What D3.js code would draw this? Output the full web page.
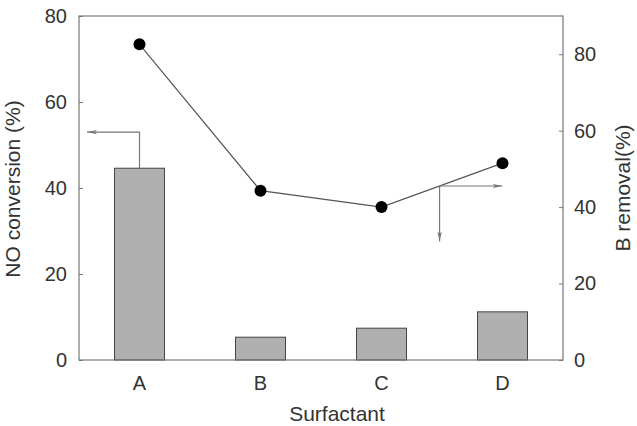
<!DOCTYPE html>
<html lang="en">
  <head>
    <meta charset="UTF-8" />
    <title>NO conversion and B removal by surfactant</title>
    <script src="https://d3js.org/d3.v7.min.js"></script>
    <style>
      body { margin: 0; background: #fff; }
      text { font-family: "Liberation Sans", Arial, sans-serif; fill: #333; }
    </style>
  </head>
  <body>
    <div id="chart"></div>
    <script>
      // data
      const categories = ["A", "B", "C", "D"];
      const noConversion = [44.6, 5.3, 7.4, 11.2];   // bars, left axis
      const bRemoval = [82.6, 44.3, 40.0, 51.5];      // dots + line, right axis
      const leftTicks = [0, 20, 40, 60, 80];
      const rightTicks = [0, 20, 40, 60, 80];

      const width = 637;
      const height = 426;
      const margin = { top: 16, right: 74, bottom: 66, left: 79 };
      const innerW = width - margin.left - margin.right;
      const innerH = height - margin.top - margin.bottom;

      const svg = d3
        .select("#chart")
        .append("svg")
        .attr("width", width)
        .attr("height", height);

      const defs = svg.append("defs");
      defs
        .append("marker")
        .attr("id", "head")
        .attr("viewBox", "0 0 10 6")
        .attr("refX", 10)
        .attr("refY", 3)
        .attr("markerWidth", 10)
        .attr("markerHeight", 6)
        .attr("markerUnits", "userSpaceOnUse")
        .attr("orient", "auto")
        .append("path")
        .attr("d", "M0,0.8 L10,3 L0,5.2 L2.5,3 Z")
        .attr("fill", "#777");

      const g = svg
        .append("g")
        .attr("transform", `translate(${margin.left},${margin.top})`);

      const x = d3
        .scaleBand()
        .domain(categories)
        .range([0, innerW])
        .paddingInner(0.587)
        .paddingOuter(0.2935);

      const yLeft = d3.scaleLinear().domain([0, 80]).range([innerH, 0]);
      const yRight = d3.scaleLinear().domain([0, 90]).range([innerH, 0]);

      // bars
      g.selectAll(".bar")
        .data(categories)
        .enter()
        .append("rect")
        .attr("class", "bar")
        .attr("x", (d) => x(d))
        .attr("width", x.bandwidth())
        .attr("y", (d, i) => yLeft(noConversion[i]))
        .attr("height", (d, i) => innerH - yLeft(noConversion[i]))
        .attr("fill", "#b0b0b0")
        .attr("stroke", "#444")
        .attr("stroke-width", 1);

      // axes (ticks point inward)
      const leftAxis = g
        .append("g")
        .call(d3.axisLeft(yLeft).tickValues(leftTicks).tickSizeInner(-4).tickSizeOuter(0).tickPadding(12));
      const rightAxis = g
        .append("g")
        .attr("transform", `translate(${innerW},0)`)
        .call(d3.axisRight(yRight).tickValues(rightTicks).tickSizeInner(-4).tickSizeOuter(0).tickPadding(11));
      const bottomAxis = g
        .append("g")
        .attr("transform", `translate(0,${innerH})`)
        .call(d3.axisBottom(x).tickSize(0).tickPadding(16));

      [leftAxis, rightAxis, bottomAxis].forEach((a) => {
        a.select(".domain").remove();
        a.selectAll("line").attr("stroke", "#777");
        a.selectAll("text").style("font-size", "20px").attr("fill", "#333");
      });

      // frame
      g.append("rect")
        .attr("width", innerW)
        .attr("height", innerH)
        .attr("fill", "none")
        .attr("stroke", "#777")
        .attr("stroke-width", 1.2);

      // line + dots
      const cx = (d) => x(d) + x.bandwidth() / 2;
      const line = d3
        .line()
        .x((d) => cx(d))
        .y((d, i) => yRight(bRemoval[i]));
      g.append("path")
        .datum(categories)
        .attr("d", line)
        .attr("fill", "none")
        .attr("stroke", "#555")
        .attr("stroke-width", 1.2);
      g.selectAll(".dot")
        .data(categories)
        .enter()
        .append("circle")
        .attr("cx", cx)
        .attr("cy", (d, i) => yRight(bRemoval[i]))
        .attr("r", 6)
        .attr("fill", "#000");

      // arrow from bar A to left axis
      const ax = cx("A");
      const ay = yLeft(53);
      g.append("path")
        .attr("d", `M${ax},${yLeft(noConversion[0])} L${ax},${ay} L8,${ay}`)
        .attr("fill", "none")
        .attr("stroke", "#777")
        .attr("stroke-width", 1.2)
        .attr("marker-end", "url(#head)");

      // arrows from C-D segment to right axis
      const bx = cx("C") + 0.48 * x.step();
      const t = (bx - cx("C")) / x.step();
      const by = yRight(bRemoval[2] + t * (bRemoval[3] - bRemoval[2]));
      g.append("path")
        .attr("d", `M${bx},${by} L${bx},${yRight(31)}`)
        .attr("fill", "none")
        .attr("stroke", "#777")
        .attr("stroke-width", 1.2)
        .attr("marker-end", "url(#head)");
      g.append("path")
        .attr("d", `M${bx},${by} L${cx("D")},${by}`)
        .attr("fill", "none")
        .attr("stroke", "#777")
        .attr("stroke-width", 1.2)
        .attr("marker-end", "url(#head)");

      // axis titles
      svg.append("text")
        .attr("transform", `translate(20,189) rotate(-90)`)
        .attr("text-anchor", "middle")
        .style("font-size", "21px")
        .text("NO conversion (%)");
      svg.append("text")
        .attr("transform", `translate(630,188) rotate(-90)`)
        .attr("text-anchor", "middle")
        .style("font-size", "21px")
        .text("B removal(%)");
      svg.append("text")
        .attr("x", 337)
        .attr("y", 421)
        .attr("text-anchor", "middle")
        .style("font-size", "21px")
        .text("Surfactant");
    </script>
  </body>
</html>
